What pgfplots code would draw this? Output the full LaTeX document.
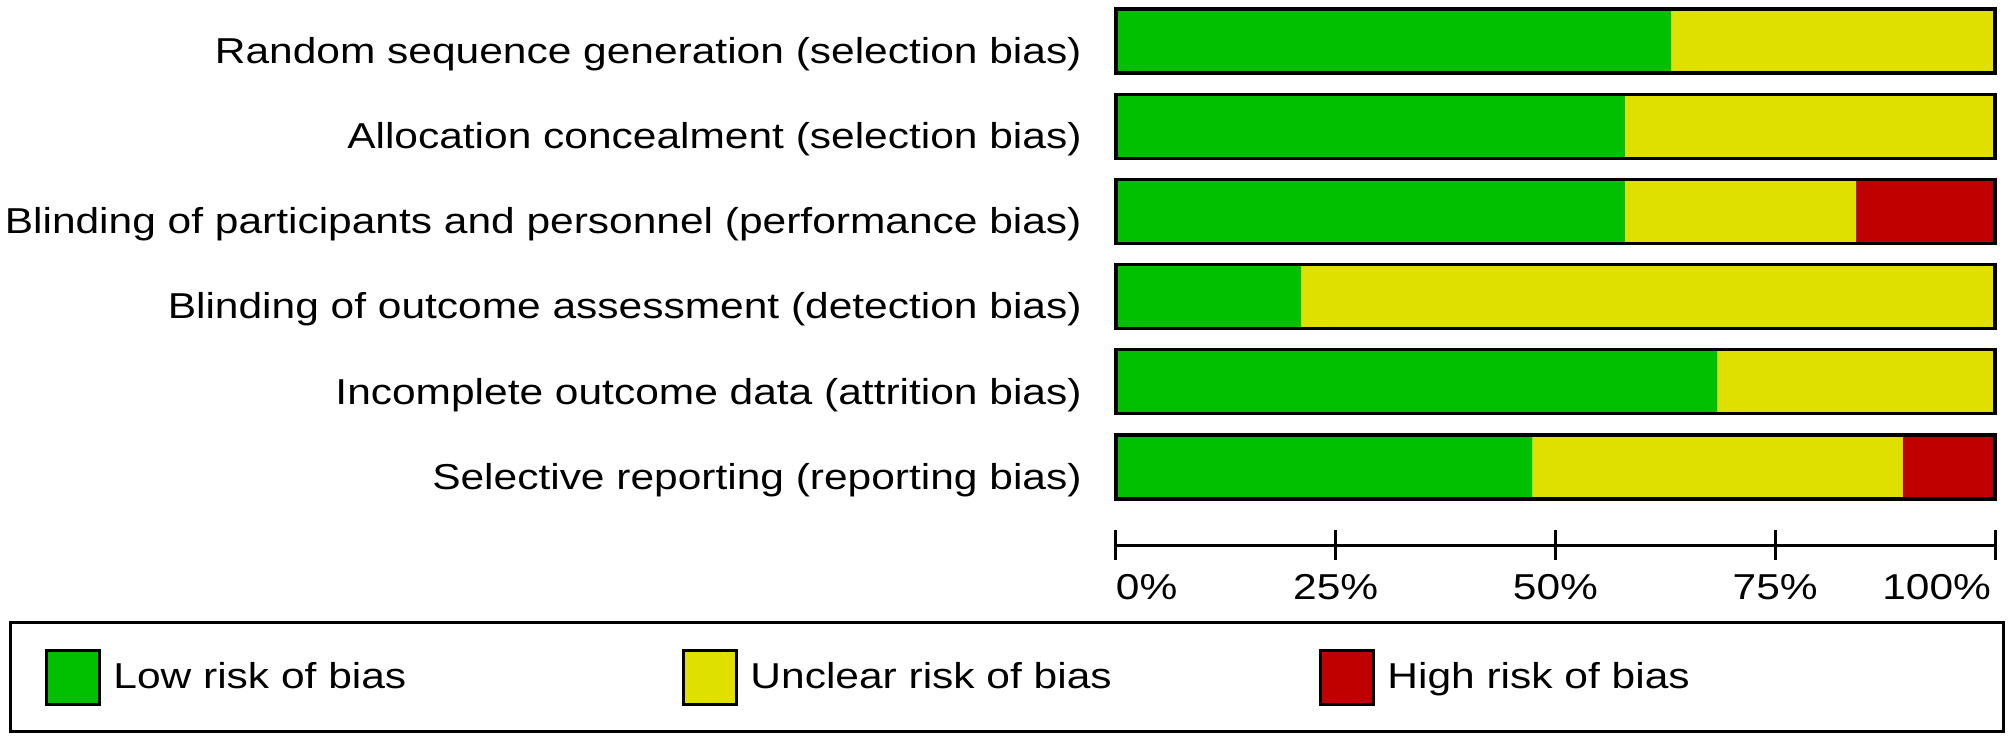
\documentclass[border=0pt]{standalone}
\usepackage{fontspec}
\setmainfont{Liberation Sans}[FakeStretch=1.18]
\usepackage{pgfplots}
\pgfplotsset{compat=1.18}
\definecolor{rbgreen}{RGB}{0,192,0}
\definecolor{rbyellow}{RGB}{224,224,0}
\definecolor{rbred}{RGB}{192,0,0}
\begin{document}
\begin{tikzpicture}[font=\fontsize{18}{21.6}\selectfont]
\path[use as bounding box] (0,0) rectangle (1004pt,-368.5pt);
\begin{axis}[
  at={(558pt,-272.5pt)}, anchor=south west,
  width=439.5pt, height=272.5pt, scale only axis,
  xbar stacked, bar width=32pt,
  xmin=0, xmax=100, ymin=-0.915, ymax=5.481,
  axis x line*=bottom, axis y line*=left,
  y axis line style={draw=none},
  x axis line style={line width=1.5pt},
  xtick={0,25,50,75,100},
  xticklabels={\makebox[0pt][l]{0\%},25\%,50\%,75\%,\makebox[0pt][r]{100\%\hspace{2pt}}},
  xticklabel style={yshift=-3.8pt},
  major x tick style={line width=1.5pt, black},
  major tick length=15pt, tick align=center,
  ytick={0,1,2,3,4,5},
  yticklabels={Selective reporting (reporting bias),
    Incomplete outcome data (attrition bias),
    Blinding of outcome assessment (detection bias),
    Blinding of participants and personnel (performance bias),
    Allocation concealment (selection bias),
    Random sequence generation (selection bias)},
  major y tick style={draw=none},
  yticklabel style={anchor=east, inner sep=0pt, xshift=-9.5pt, yshift=-6.5pt},
  clip=false,
  legend columns=3,
  legend cell align=left,
  legend style={at={(axis description cs:-0.124,-0.2422)}, anchor=center,
    draw=black, line width=1.5pt, inner xsep=17.5pt, inner ysep=13pt,
    column sep=0pt, nodes={inner sep=0pt}},
  legend image code/.code={\draw[#1, line width=1.5pt, draw=black] (0pt,-13.5pt) rectangle (26.5pt,13.5pt);},
]
\addplot[fill=rbgreen, draw=none] coordinates {(47.37,0) (68.42,1) (21.05,2) (57.89,3) (57.89,4) (63.16,5)};
\addlegendentry{\hspace{6pt}\makebox[284.5pt][l]{Low risk of bias}}
\addplot[fill=rbyellow, draw=none] coordinates {(42.11,0) (31.58,1) (78.95,2) (26.32,3) (42.11,4) (36.84,5)};
\addlegendentry{\hspace{6pt}\makebox[284.5pt][l]{Unclear risk of bias}}
\addplot[fill=rbred, draw=none] coordinates {(10.53,0) (0,1) (0,2) (15.79,3) (0,4) (0,5)};
\addlegendentry{\hspace{6pt}\makebox[290.5pt][l]{High risk of bias}}
\end{axis}
\begin{axis}[
  at={(558pt,-272.5pt)}, anchor=south west,
  width=439.5pt, height=272.5pt, scale only axis,
  hide axis, clip=false,
  xbar, bar width=32pt,
  xmin=0, xmax=100, ymin=-0.915, ymax=5.481,
]
\addplot[fill=none, draw=black, line width=1.6pt] coordinates {(100,0) (100,1) (100,2) (100,3) (100,4) (100,5)};
\end{axis}
\end{tikzpicture}
\end{document}
